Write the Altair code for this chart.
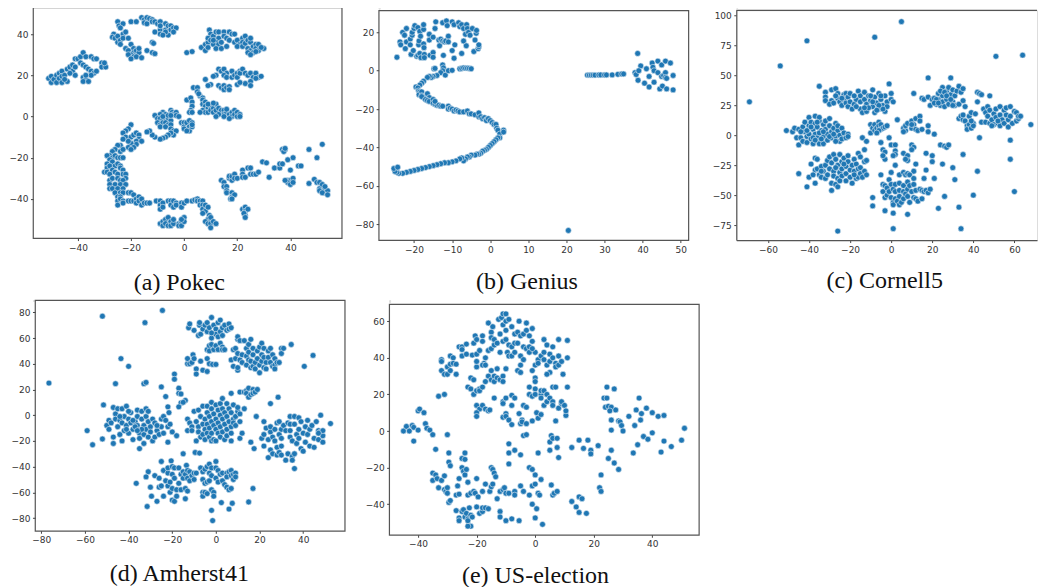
import altair as alt
import pandas as pd

pokec = [(-51,18.5),(-50,16.5),(-50,19.5),(-49,18),(-48,20),(-48,16.5),(-47,21),(-47,18.5),(-46,22),(-46,16.5),(-46,19.5),(-45,20),(-44,17),(-44,23),(-43,24),(-42,22),(-42,25),(-41,24),(-41,20),(-45,18),(-43,21),(-41,28),(-40,28),(-39,29),(-38,31),(-37,29),(-35,29),(-34,28),(-33,28),(-39,26),(-38,25),(-37,24),(-36,23),(-35,22),(-34,21),(-35,20),(-33,22),(-38,19),(-37,18),(-38,17),(-36,17),(-37,20),(-31,26),(-30,25),(-31,24),(-29.5,24),(-30,26),
(-25,46),(-24.5,44),(-23,45),(-24,43),(-26.5,40),(-27,38.5),(-26,38),(-25,39),(-25,36),(-24,37),(-23,40),(-22,41),(-23,38),(-21,38),(-24,35),(-22,33),(-20,35),(-19,33),(-21,32),(-19,31),(-18,32),(-20,30),(-17,31),(-19,29),(-21,30),(-20,28),(-18,29),(-16,28.5),(-17,33),(-14,32),(-12,31),(-11,30.5),(-12,36),(-11.5,35.5),
(-20,46),(-18,46),(-16,48),(-15,47),(-15,45.5),(-14,48),(-14,45),(-13,47.5),(-12,47),(-12,46),(-11,46),(-10,45),(-9,46),(-11,41),(-9,42),(-9,40),(-7,45),(-7,42),(-6,44),(-5,44),(-5,42),(-4,43),(-3,43),(-6,39.5),(-7,41),(-8,39.5),(-4,41),(-9,44),
(1,31),(3,31.5),(6.5,33.5),(8,32),(8,35),(9,36),(9,33.5),(9.5,42),(10,40),(9,38),(10,37),(11,39),(12,41),(13,41),(13,38),(12,36),(11,35),(13,35),(12,33),(14,33),(14,36),(11,37),(15,41),(15,39),(16,38),(17,41),(18,40),(19,40),(17,37),(16,34),(19,36),(20,37),(21,35),(20,34),(22,38),(22,36),(22,34),(23,39),(23,35.5),(24,37),(24,33),(25,36),(25,32),(25,38),(26,34),(26,31),(27,35),(27,33),(28,35),(28,32),(24,31),(25,30),(27,31.5),(30,33),(29,33.5),
(13,23),(14,22),(15,23),(16,21),(15,20),(12,20),(11,19.5),(16,19),(18,22),(18,19),(19,20),(20,21),(20,19),(21,22),(21,21),(22,23),(23,21),(24,20),(25,21),(26,19),(27,21),(28,19),(29,19.5),(27,18.5),(25,17),(23,16),(20,15.5),(21,16.5),(25,15),(13,15),(14,14),(15,15),(15,13),(16,14),(17,14.5),(17,13),(10,15.5),(9,15),(8,18),(3.5,14),(5,14),(5,12),(6,10),(5.5,11),(7,9),
(7,8),(7,6),(8,7),(8,5),(9,4),(7,3),(8,2),(9,2),(10,5),(10,3),(11,4),(11,2),(12,6),(12,3),(13,4),(14,2),(14,3),(15,3),(15,1),(16,2),(16,3.5),(17,1),(18,2),(18,0),(17,-1),(19,3),(19,1),(20,2),(20,0),(21,1),(21,0),(13,1),(15,0),(12,0),(9,6),(11,6.5),(6,2),
(2,8),(1,8),(2.5,9),(3,7),(3,5),(2.5,3),(2,2),(3,2),
(-8,2),(-7,1),(-9,1),(-11,0.5),(-10,-1),(-9,-1),(-8,-1.5),(-6,-1),(-5,-2),(-8,0),(-6,0.5),(-10,-3),(-9,-4),(-8,-3),(-7,-3),(-9,-5),(-6,-4),(-7,-5),(-5,-4),(-5,-6),(-4,-7),(-3,-7),(-4,-9),(-5,-8),(-6,-9),(-7,-10),(-8,-10.5),(-9,-11),(-11,-10),(-12,-9),(-13,-7),(-14,-7.5),(-5,3),(-4.5,2),(-4,1),(-3,2),(-3,0.5),(-5,0.5),(-2,0),(-1,-3),(0,-3),(0,-5),(1,-3),(1,-6),(2,-2),(2,-5),(2,-7),(3,-3),(3,-5),(0,-6),(1,-7),(3,-4),
(-20,-4),(-21,-6),(-22,-7),(-23,-8),(-22,-10),(-20,-10),(-19,-9),(-18,-8),(-17,-9),(-17,-11),(-18,-12),(-16,-12),(-18,-13.5),(-20,-13),(-21,-12),(-23,-11),(-21,-15),(-19,-15),(-20,-16),(-24,-14),(-25,-14),(-26,-16),(-24,-17),(-23,-16),(-27,-17),(-28,-19),(-29,-19),(-27,-20),(-26,-19),(-25,-20),(-24,-20),(-23,-20),(-28,-21),(-27,-22),(-29,-23),(-29,-25),(-28,-24),(-26,-24),(-25,-23),(-24,-24),(-24,-25),(-23,-26),(-30,-27),(-29,-27),(-27,-26),(-26,-27),(-23,-28),(-22,-28),(-28,-28),(-25,-28),(-28,-31),(-27,-30),(-25,-30),(-24,-31),(-22,-30),(-23,-31),(-28,-33),(-26,-33),(-24,-33),(-22,-33),(-28,-35),(-27,-35),(-25,-35),(-23,-35),(-26,-37),(-24,-37),(-23,-37),(-25,-39),(-24,-39),(-21,-37),(-20,-37),(-19,-38),(-25,-41),(-24,-40),(-23,-41),(-21,-41),(-20,-41),(-25,-43),(-23,-42),(-19,-41),(-18,-40),(-17,-39),(-18,-42),(-17,-41),(-16,-43),(-16,-40),(-15,-42),(-14,-42),(-13,-42),
(-10.5,-41),(-9,-41),(-9,-43),(-9,-45),(-8,-42),(-8,-44),(-6,-41),(-5,-41),(-5,-43),(-4,-44),(-4,-41),(-3,-42),(-3,-43),(-1,-42),(-1,-44),(0,-42),(1,-41),(3,-41),(4,-40.5),(5,-40),(5,-41),(6,-41),(6,-43),(7,-41),(7,-43),(7,-45),(8,-43),(8,-46),(9,-44),(7,-47),(9.5,-48),(9,-50),(10,-49),(8,-51),(9,-52),(10,-52),(10,-54),(11,-51),(12,-52),
(-9,-52),(-8,-51),(-8,-53),(-7,-50),(-7,-52),(-6,-49),(-6,-53),(-5,-51),(-5,-53),(-4,-52),(-4,-50),(-2,-52),(-2,-53),(-1,-51),(-1,-53),(0,-49),(0,-51),(-1,-50),
(14,-31),(15,-32),(15,-34),(16,-34),(16,-36),(17,-30),(17,-29),(18,-31),(18,-29),(19,-28),(19,-30),(20,-30),(16,-37),(18,-37),(18,-39),(17.5,-40),(19,-38),(18,-40),(22,-26),(22,-28),(22,-29.5),(23,-29.5),(24,-25),(25,-25),(25,-28),(26,-28),(27,-28),(28,-27),(29.5,-22),(31,-22.5),(32,-29.5),(34,-25),(36,-25),(36,-23),(37,-23),(37,-16),(38,-16),(37.5,-17),(38,-15.5),(39,-21),(41,-20),(40,-26),(43,-24),(44,-24),(47,-16),(50,-20),(52,-13.5),(39,-31),(40,-31),(39,-32),(41,-30),(40,-33),(41,-32),(38,-31),(47,-32.5),(49,-30.5),(50,-32),(51,-32),(51,-35),(52,-33),(51,-36),(53,-35),(53,-37),(54,-36),(52,-37),(54,-38),(53,-34),(22,-45),(23,-44),(23,-46),(24,-45),(23,-48),(22.5,-47),(23,-49)]

genius = [(-24.5,7),(-23.7,15),(-23.5,13.5),(-23,20),(-22.5,18.5),(-22.3,11.5),(-22,15),(-22,22),(-21,16.5),(-21,13.5),(-20.8,8.5),(-20.5,18.5),(-20.5,20),(-20.2,10.5),(-20,22),(-19.8,23.5),(-19.3,7.5),(-19,8),(-19,22.5),(-18.8,13.5),(-18.7,15.5),(-18.5,20.5),(-18.3,18),(-18.5,9),(-18.2,6.8),(-17.5,21.5),(-17.5,24),(-17.5,14),(-17.4,12),(-17.3,8.5),(-17.3,6.8),(-16,19),(-16,16),(-15.8,8),(-15,17.5),(-15,9.5),(-15,7),(-14.5,22),(-14.3,25.5),(-13.5,16),(-13.3,13),(-13,16.5),(-12.5,15.5),(-12.5,25),(-12.3,8),(-12,15),(-11.7,15.5),(-11.5,26),(-11.3,23.5),(-11,18),(-11,15),(-10,10.5),(-10,25.5),(-9.5,6.5),(-9.5,24),(-9.3,13.5),(-8.3,25),(-8,23),(-7.5,9),(-7.5,24),(-7,22),(-7,15.5),(-6.5,19),(-6.3,13),(-6.2,24),(-6,22),(-5.7,20),(-5.3,18.5),(-4.7,22),(-4.3,10),(-4,16),(-3.7,19.5),(-3.6,21),(-3.2,11.5),(-3,12.5),(-3,13.5),
(-14.8,1),(-14.5,1.2),(-12.5,3),(-12.3,1.5),(-12.5,0),(-13,-1),(-11.8,-2.3),(-11,0),(-10,0.2),(-8,1),(-7.5,1.2),(-7,1.5),(-6.5,1.3),(-6,1.3),(-5.5,1.2),(-5,1),(-14,-2.5),(-15,-3),(-15.5,-3.5),(-16,-3),(-16.5,-3.5),(-17.5,-5.5),(-18,-6.5),(-18.5,-7.5),(-19.5,-8.5),(-19,-9),(-18.8,-10.5),(-18.5,-11),(-18.7,-12.5),(-18,-11),(-18,-13),(-17.5,-14),(-18,-13.5),(-16.5,-12),(-16,-14),(-17,-15),(-16.5,-15.5),(-16,-16),(-15,-15),(-15,-17),(-14.5,-17.5),(-14,-18),(-14.5,-16),(-13.5,-18),(-13,-18.5),(-12.5,-18.5),(-11,-18.5),(-11,-20),(-10.5,-19.5),(-10,-20),(-9.5,-21),(-9,-20.5),(-8.5,-21),(-8,-21.5),(-7,-21.5),(-6,-21),(-5.5,-22.5),(-5,-22.5),(-4,-23),(-3,-24),(-3,-22),(-2.5,-24),(-2,-25),(-1.5,-24.5),(-1,-25.5),(-1,-26),(-0.5,-25),(0,-26),(0.5,-27),(1,-28),(1.5,-28),(1.7,-30),(2,-31),(2.5,-33),(3.5,-31),(3.5,-32),(2.5,-35),(2,-35),(1.5,-36),(1,-37),(0.5,-38),(0,-39),(-0.5,-40),(-1,-41),(-1.5,-41.5),(-2,-42),(-2.5,-43),(-3,-43.5),(-3.5,-43.5),(-4,-44),(-5,-44),(-5.5,-45),(-6,-45),(-6.5,-46),(-7,-47),(-7.5,-45.5),(-8,-46),(-9,-47),(-10,-47.5),(-11,-48),(-12,-48),(-13,-48.5),(-14,-49),(-15,-49.5),(-16,-50),(-17,-50.5),(-18,-51),(-19,-51.5),(-20,-52),(-21,-52.5),(-22,-53),(-23,-53.5),(-24,-53.5),(-24.5,-53),(-25,-52.5),(-25.3,-51),(-24.3,-50.3),
(25.5,-2.3),(26,-2.3),(26.5,-2.3),(27,-2.3),(27.5,-2.3),(28.5,-2.2),(29,-2.2),(30,-2.2),(30.5,-2.2),(32,-2.2),(33.5,-1.9),(34.5,-1.7),(35,-1.7),(38.7,9),(39.5,2.5),(41,1),(42.5,4),(42.7,1.8),(44,5),(45,3),(46,5),(47.3,4),(38,-1),(38.3,-2),(39,0),(38.8,-5),(40.5,-6.5),(41.7,-8.5),(41.7,-3),(43,-6),(43,0),(44,-1),(44.5,-9.5),(45.2,-8),(45,-3),(45.5,-2.5),(46,-1),(46,-3.5),(46.3,-4),(46.3,-9.5),(48,-2.5),(48,-10),(20.5,-83.3)]

cornell = [(-69,28),(-54,58),(-41,79),(-8,82),(5,95),(51,66),(64,67),(68,9),(-26,-80),(1,-78),(34,-78),(33,-60),(23,-61),(8,-66),(1,-65),(-3,-63),(-9,-59),(40,-50),(60,-47),(58,-20),(58,-4),(43,-2),(42,-30),(35,-16),(31,-37),(30,-27),(26,-51),(25,-24),(21,-36),(20,-22),(20,-17),
(-35,41),(-32,36),(-32,32),(-32,29),(-29,38),(-29,29),(-30,26),(-27,39),(-26,35),(-26,31),(-25,28),(-24,25),(-23,34),(-23,30),(-22,35),(-22,27),(-21,32),(-21,24),(-20,35),(-20,28),(-19,22),(-18,26),(-17,30),(-16,37),(-15,33),(-15,28),(-15,22),(-14,19),(-13,36),(-13,30),(-12,26),(-12,20),(-11,33),(-10,29),(-9,38),(-9,24),(-8,32),(-8,19),(-7,27),(-6,35),(-6,22),(-5,30),(-4,25),(-3,33),(-3,20),(-2,28),(-1,43),(0,35),(0,30),(1,28),(-2,24),(-4,22),(-27,33),(-28,27),(-24,31),(-18,33),(-17,24),(-11,23),(-9,28),(-13,23),(-6,25),(-5,33),(-7,21),(-10,33),
(-51,4),(-48,3),(-47,6),(-46,-2),(-45,5),(-45,-8),(-44,-2),(-43,7),(-43,-5),(-42,3),(-42,11),(-41,-1),(-41,-6),(-40,15),(-40,8),(-40,1),(-39,11),(-39,-3),(-38,5),(-38,-7),(-37,16),(-37,10),(-37,1),(-36,-2),(-36,7),(-35,12),(-35,15),(-35,-7),(-34,4),(-33,-1),(-33,9),(-33,-7),(-32,12),(-32,5),(-31,1),(-31,-4),(-30,8),(-30,14),(-29,3),(-29,-2),(-28,6),(-27,10),(-27,-1),(-26,4),(-26,8),(-25,0),(-25,-5),(-24,6),(-24,-3),(-23,2),(-22,-2),(-21,1),(-21,-1),(-38,-2),(-41,4),(-44,3),(-39,7),(-37,-4),(-35,2),(-36,11),(-30,-1),(-28,1),(-33,3),(-34,-3),(-27,-5),
(-10,9),(-10,2),(-9,6),(-8,9),(-8,4),(-7,6),(-6,11),(-6,8),(-5,5),(-5,9),(-4,6),(-3,7),(-2,8),(-6,4),(-7,2),(3,13),
(6,6),(7,4),(6,3),(7,8),(8,10),(10,12),(10,6),(11,9),(12,14),(12,5),(14,16),(13,4),(15,5),(10,9),(14,12),(18,8),(18,3),(21,1),
(11,35),(15,31),(16,30),(18,48),(18,32),(19,25),(20,30),(21,31),(22,26),(23,35),(23,30),(24,25),(25,40),(25,33),(25,28),(26,24),(27,37),(27,30),(28,40),(28,26),(29,34),(29,48),(30,38),(30,28),(31,33),(31,25),(32,37),(33,26),(33,41),(34,36),(35,29),(35,39),(36,24),(24,37),(22,30),(26,36),(30,25),(27,33),(21,27),(23,27),(29,30),
(33,14),(34,16),(35,13),(35,17),(36,12),(37,8),(37,5),(38,16),(38,9),(39,19),(39,6),(40,10),(40,8),(41,18),(39,12),(42,36),(43,35),(44,34),(42,28),(48,33),
(44,11),(45,22),(46,19),(46,11),(47,24),(47,16),(48,21),(48,10),(49,13),(50,18),(50,9),(51,22),(51,15),(52,10),(53,24),(53,17),(53,8),(54,13),(55,21),(55,10),(56,17),(56,23),(57,13),(57,7),(58,24),(58,16),(59,10),(60,20),(61,12),(61,19),(62,14),(62,16),(63,16),(49,8),(52,12),
(-45,-32),(-41,-43),(-40,-35),(-39,-24),(-37,-29),(-37,-40),(-37,-19),(-36,-20),(-36,-28),(-35,-33),(-34,-35),(-34,-26),(-33,-30),(-32,-25),(-32,-36),(-31,-33),(-31,-21),(-30,-28),(-30,-18),(-29,-40),(-29,-46),(-29,-23),(-28,-16),(-28,-30),(-28,-34),(-27,-20),(-27,-41),(-26,-25),(-26,-36),(-26,-43),(-25,-31),(-25,-16),(-24,-22),(-24,-28),(-24,-34),(-23,-19),(-22,-26),(-22,-32),(-22,-38),(-21,-17),(-21,-22),(-20,-29),(-20,-35),(-19,-25),(-19,-40),(-18,-20),(-18,-30),(-17,-36),(-17,-24),(-16,-28),(-16,-15),(-16,-35),(-15,-18),(-15,-27),(-15,-32),(-14,-35),(-13,-22),(-13,-30),(-13,-12),(-12,-33),(-12,-21),(-14,-2),(-12,-5),(-25,-38),(-27,-27),(-23,-24),(-18,-33),(-38,-33),(-34,-30),
(-5,-6),(-4,-12),(-3,-14),(-3,-20),(-4,-17),(-1,-2),(0,-8),(2,-8),(2,-13),(2,-16),(1,-17),(0,-31),(2,-25),(-5,-33),(6,-15),(8,-17),(8,-21),(7,-20),(10,-8),(11,-10),(10,-12),(11,-30),(12,-24),(17,-15),(17,-29),(16,-36),(4,-33),(6,-31),(7,-33),(8,-32),(9,-33),(11,-36),(24,-8),(26,-9),(27,-10),(28,-8),
(-9,-52),(-4,-41),(-4,-47),(-3,-52),(-3,-42),(-2,-44),(-2,-50),(-1,-37),(-1,-47),(0,-41),(0,-52),(1,-45),(1,-56),(1,-58),(2,-41),(2,-47),(2,-53),(3,-55),(4,-40),(4,-46),(4,-51),(4,-58),(5,-56),(6,-42),(6,-47),(6,-53),(7,-49),(8,-39),(8,-45),(8,-51),(9,-56),(9,-42),(10,-47),(11,-41),(11,-52),(12,-53),(12,-46),(13,-55),(14,-45),(15,-46),(15,-53),(16,-47),(17,-46),(18,-48),(19,-45)]

amherst = [(-76.5,25),(-52,77),(-32.5,72),(-24.5,81.5),(-43.5,44),(-40,38),(-46,24.5),(-33,24.5),(-32,25.5),(-25,22),(-19,32),(-19,28),(-23,14.5),(-17,21),(-17,17),(-16,16.5),(-14,11.5),(-16,9.5),(-15,10),(-17,6.5),(-22,6.5),(-21.5,2),(-59,-12),(-56.5,-23),(-51.5,8),(-52,-18.5),(-15,-30),(-9.5,-29),(-7.5,-29.5),(34.5,55),(44.5,46.5),(40.5,38),(25,9),(28.5,14),(18.5,-1),(52.5,-6.5),(36,-41.5),(15,-67.5),(17,-57),(6,-73),(2.5,-68),(7.5,-68.5),(-2,-74),(-1.5,-82),
(-12.5,68),(-12,71),(-10,66),(-8,62),(-7.5,70),(-7.5,72),(-7,63),(-6,67),(-5,70),(-4,72),(-4,65),(-3,68),(-2,76),(-2,60),(-1,70),(0,67),(0,63),(1,72),(1,61),(2,74),(2,65),(3,68),(3,62),(4,70),(5,66),(6,71),(6,67),(7,68),(-2,64),
(-4,51),(-3,54),(-3,50),(-2,55),(-1,51),(0,54),(1,51),(2,56),(3,53),(3,51),(4,51),(-13,40),(-13,44),(-12,40),(-11,41),(-10.5,47),(-10,44),(-9,36),(-9,32),(-7,42),(-6,35),(-4,44),(-4,34),(-3,40),(-1.5,39.5),(0,39.5),
(7,43),(8,38),(8,51),(9,52),(9,44),(10,48),(10,59),(10,61),(11,58),(10,35),(10,37),(11,43),(12,47),(12,41),(13,58),(14,52),(14,46),(14,39),(15,55),(15,49),(15,43),(16,37),(16,42),(17,52),(17,47),(17,38),(18,41),(18,36),(19,50),(19,44),(20,33),(20,39),(20,53),(21,56),(21,47),(21,42),(22,52),(22,45),(22,37),(23,41),(23,36),(24,50),(24,45),(25,52),(25,41),(26,47),(26,38),(27,44),(27,39),(27,36),(28,41),(29,41),(30,52),(30,48),(31,52),(16,59),
(7,17),(11,18),(13,18),(14,19),(14,17),(15,21),(15,14),(16,16),(17,20),(17,17),(18,18),(19,20),
(-50,-8),(-49,-11),(-49,-4),(-48,-6),(-47,-17),(-47,-22),(-47,6),(-46,1),(-46,-3),(-45,5),(-45,-9),(-44,-15),(-44,-4),(-43,-20),(-43,5),(-43,-6),(-42,-1),(-42,-12),(-41,7),(-41,-8),(-40,-3),(-40,-14),(-39,-6),(-39,2),(-38,-11),(-38,-19),(-37,-5),(-36,4),(-36,-1),(-36,-8),(-35,-14),(-35,-18),(-35,-26),(-34,-3),(-34,3),(-33,-8),(-33,-22),(-33,-15),(-32,5),(-32,-1),(-32,-11),(-31,-5),(-31,3),(-31,-17),(-30,-9),(-30,-13),(-29,-20),(-29,-3),(-28,-6),(-28,-17),(-27,-12),(-26,-15),(-25,-9),(-25,-3),(-24,-14),(-24,-1),(-23,-4),(-22,-9),(-22,-21),(-21,-7),(-20,-13),(-18,-16),(-38,-4),(-44,-1),(-41,-11),(-37,-9),(-40,3),(-34,-11),(-36,-12),(-27,-8),
(-13,-3),(-13,-12),(-12,-6),(-11,-9),(-11,-12),(-10,3),(-9,-5),(-9,-20),(-8,-9),(-8,4),(-8,-13),(-7,-1),(-7,-17),(-6,-7),(-6,-15),(-6,7),(-5,-3),(-5,-11),(-5,-19),(-4,7),(-4,2),(-4,-7),(-4,-14),(-3,-1),(-3,-10),(-3,-17),(-2,10),(-2,5),(-2,-5),(-2,-14),(-2,-20),(-1,1),(-1,-8),(-1,-19),(0,8),(0,-3),(0,-11),(0,-20),(1,4),(1,-6),(1,-14),(2,9),(2,0),(2,-9),(2,-17),(3,13),(3,5),(3,-3),(3,-13),(4,2),(4,-7),(4,-19),(5,9),(5,-1),(5,-11),(5,-16),(6,5),(6,-5),(7,2),(7,-9),(7,-14),(7,-20),(8,8),(8,-3),(8,-6),(9,-1),(9,-8),(10,3),(10,6),(11,-5),(11,1),(13,5),(11,-18),(12,-14),(16,-21),(17.5,-26),
(21,-18),(22,-5),(22,-15),(22,-24),(23,-10),(24,-19),(24,-33),(25,-13),(25,-9),(25,-27),(26,-17),(26,-30),(27,-11),(27,-20),(28,-6),(28,-25),(28,-31),(29,-15),(29,-5),(29,-29),(30,-11),(30,-18),(30,-24),(30,-31),(31,-8),(32,-12),(32,-35),(33,-6),(33,-30),(34,-1),(34,-7),(34,-12),(34,-17),(35,-20),(35,-32),(35,-35),(36,-1),(36,-7),(36,-30),(37,-15),(37,-22),(38,-2),(38,-11),(38,-18),(39,-26),(39,-5),(40,-14),(40,-28),(41,-21),(41,-9),(42,-15),(42,-4),(43,-11),(43,-24),(44,-8),(45,-25),(45,-18),(46,-5),(47,-19),(47,-12),(48,0),(48,-13),(49,-21),(49,-16),(49,-12),(47,-14),
(-36.5,-53),(-31.5,-71),(-31,-44),(-32,-48),(-30,-56),(-29.5,-63),(-28,-47),(-27,-67),(-26,-56),(-26,-49),(-25,-36),(-25,-55),(-24,-43),(-24,-63),(-23,-51),(-22,-45),(-22,-41),(-22,-55),(-21,-52),(-21,-60),(-20.5,-35.5),(-20,-40),(-20,-46),(-20,-57),(-20,-66),(-19,-41),(-19,-49),(-19,-67),(-18,-58),(-18,-63),(-17,-41),(-17,-53),(-16,-46),(-16,-58),(-15,-44),(-15,-49),(-14,-65),(-14,-57),(-14,-46),(-13.5,-39),(-13,-43),(-13,-59),(-13,-49),(-12,-44),(-12,-51),(-11,-47),(-10,-45),(-10,-50),(-9,-45),
(-7,-41),(-6,-44),(-6,-50),(-6,-60),(-6,-63),(-5,-42),(-5,-53),(-5,-60),(-4,-40),(-4,-52),(-4,-61),(-3,-38),(-3,-45),(-3,-51),(-2,-41),(-2,-47),(-2,-58),(-1,-60),(-1,-63),(0,-36),(0,-41),(0,-49),(1,-43),(1,-52),(2,-46),(3,-45),(3,-51),(4,-54),(5,-45),(5,-56),(5,-48),(6,-44),(6,-58),(7,-43),(7,-47),(7,-57),(8,-50),(8,-46),(9,-45),(9,-48)]

election = [(-45,0),(-44,2.5),(-43,0),(-42,3),(-41.5,2),(-41.5,-5.5),(-40,0.5),(-40,11),(-39.5,12),(-38,10),(-37.5,4),(-37,1.5),(-36,0.5),(-35,-2),(-34,-10),(-30,-2),(-35,-23),(-35,-27),(-34,-24),(-33.5,-26),(-33,-31),(-32,-27),(-31,-24.5),(-31,-32),(-30.5,-33),(-30,-31),(-30,-34),(-29.5,-12),(-29.5,-17),(-29,-19),(-29.5,-39),(-29,-38),(-27,-35),(-26.5,-30),(-26,-26),(-26,-34.5),(-25,-15),(-25,-20),(-24.5,-22),(-24,-24),(-24,-15.5),(-23.5,-21),(-24,-12),(-23,-28),(-23,-35),(-22,-34),(-21,-33),(-20.5,-34),(-20,-26),(-19.5,-36),(-18,-33),(-17,-29),(-15.5,-33),(-15,-30.5),(-14.5,-29),(-15,-20),(-14.5,-21),(-14,-23),(-13.5,-25),(-13,-37),(-12,-33),(-11,-32),(-10.5,-31),(-10,-34),(-9,-34),(-7,-33),(-7,-35),(-5,-30),(-4,-33),(-2,-35),(-2,-20),(-1,-21),(0,-24),(2,-26.5),(-1,-30),(0,-29),(1,-34),(1.5,-35),(5.5,-29.5),(6,-35),(6.5,-34),(7.5,-33),(-1,-40),(0.5,-42.5),(0,-47.5),(2.5,-51),(-12,-44),(-12,-47),(-10,-49),(-8,-48),(-5.5,-49),
(-27,-43.5),(-26,-47.5),(-26,-49),(-25,-44),(-24.5,-43),(-24,-47),(-23.5,-45),(-23,-48),(-22.5,-42),(-22,-46),(-22,-52),(-23,-52),(-23,-49),(-21.5,-47),(-20,-41.5),(-19,-45),(-18,-44),(-18,-42),(-17,-42),(-16,-42.5),
(-9,-7),(-9,-12),(-9,-18),(-7,-10.5),(-5,-13),(1,-12),(5,-10.5),(5,-6),(5.5,-2.5),(6,-4),(7.5,-4),(7.5,-9),(8,-14.5),(12.5,-9),(15,-5),(16.5,-9.5),(18,-5),(19,-10.5),(19,-12.5),(21.5,-8),(22.5,-24),(22,-31),(22.5,-33),(12.5,-38.5),(14,-41.5),(15,-44.5),(15,-36),(16,-37),(17.5,-45),(25,-15),(26,-10.5),(27,-17.5),(28.5,-21),
(24.5,24),(27,23),(23.5,18),(24.5,18),(24,13),(25,13.5),(26,13),(25.5,11),(27.5,11.5),(26,6),(26,0.5),(28.5,5.5),(29,5),(29.5,3),(30,0),(32,8),(34,3),(34.5,11.5),(35.5,18),(36,6),(36.3,9.5),(37,-3),(38,12.5),(38.5,-4.5),(40,10),(40,-1),(42,8),(43,-11.5),(44,8.5),(44,-5.5),(46.5,-8.5),(50,-5),(51,1.5),(35,-7.5),(33.5,-12),
(-32,39),(-32,38),(-30,35),(-29,41),(-29,36.5),(-28,40),(-28,37),(-27,36.5),(-26,46),(-25,46),(-25,44.5),(-25,41),(-23.5,47.5),(-23.5,42),(-21.5,41.5),(-21,48),(-20.5,52),(-20,50),(-20,42),(-19,44),(-18,52),(-18,49),(-17.5,37),(-17,40),(-16,44),(-16,59),(-15,54),(-15,51),(-15,45),(-14.5,57),(-14,47),(-14,50),(-13,48),(-12.5,61),(-12,53),(-12,43),(-11.5,62),(-11,64),(-11,58),(-11,49),(-10,64),(-10,60),(-10,55),(-10,50),(-9.5,43),(-9,61),(-9,47),(-9,41),(-8,57),(-8,46),(-8,41),(-7,53),(-7,48),(-7,43),(-6,54),(-6,48),(-5.5,60),(-5,41),(-5,52),(-4,53),(-4,46),(-3,59),(-3,55),(-3,45),(-2,52),(-2,46),(-2,43),(-1,56),(-1,49),(0,43),(0,36),(1,39),(1,37),(2,41),(3,50),(3,43),(3,39),(4,47),(4,36),(5,42),(5,38),(5,32),(6,46),(6,40),(7,37),(7,35),(8,50),(8,41),(8,36),(9,38),(9.5,31),(11,49.5),(11,40),(4,31),(-1,33),(-4,39),(-5,36),(-6,33),(-5,32),(-10,34),(-1,45),
(-32,33),(-31,31),(-30,31),(-29,33),(-27,31),(-23,24),(-22,23),(-22,29),(-21,28),(-21,20),(-20,22),(-20,35),(-20,38),(-19,23),(-19,22),(-18,24),(-18,36),(-17,27),(-17,36),(-16,30),(-15,28),(-15,33),(-14,30),(-14,27),(-13,29),(-13,34),(-12,28),(-11,30),(-11,27),(-33,19),(-31,20),(-14,18),(-20,14),(-19,12),(-20,10),(-20,8),(-18,14),(-17,12),(-16,11),(-15.5,11.5),(-11,16),(-11,15),(-10,9.5),(-11,7.5),(-10,8),(-9,6),(-8,3.5),(-10,18),(-8,19.5),(-8,14),(-7,18),(-5.5,9.5),(-5,4),(-4.5,6),(-4.5,5),(-4,14),(-4,-2.5),(-3,-2),(-3,4),(-3,13),(-1,5.5),(0.5,10),(1,7),(2,9),(3,14),
(-2,20),(-2,24),(-1,19),(0,23),(0,20),(0,29),(0,27),(2,20),(2,18),(2,22),(3,22),(4,16),(4,20),(5,18),(6,24),(6,16),(6,14),(7,24),(8,12.5),(9,15),(9,16),(10,14),(10.5,8.5),(10.5,11),(11,24),(7,5.5)]

pokec_xt, pokec_yt = [-40, -20, 0, 20, 40], [-40, -20, 0, 20, 40]
genius_xt, genius_yt = [-20, -10, 0, 10, 20, 30, 40, 50], [-80, -60, -40, -20, 0, 20]
cornell_xt, cornell_yt = [-60, -40, -20, 0, 20, 40, 60], [-75, -50, -25, 0, 25, 50, 75, 100]
amherst_xt, amherst_yt = [-80, -60, -40, -20, 0, 20, 40], [-80, -60, -40, -20, 0, 20, 40, 60, 80]
election_xt, election_yt = [-40, -20, 0, 20, 40], [-40, -20, 0, 20, 40, 60]

FRAME = "#555555"


def panel(points, xdom, ydom, xt, yt, w, h, caption, tx, ty, open_right=False):
    x_axis = alt.Axis(values=xt, title=caption, grid=False, format="d", titleFont="Liberation Serif",
                      titleFontSize=24, titleFontWeight="normal", titleColor="#111111", titleX=tx, titleY=ty,
                      titleBaseline="middle", titleAlign="center", labelFont="DejaVu Sans", labelFontSize=9,
                      labelColor="#333333", tickColor="#444444", tickSize=2.5, domain=open_right,
                      domainColor=FRAME, domainWidth=1.2, labelOverlap=False, labelFlush=False, labelPadding=2.5)
    y_axis = alt.Axis(values=yt, title=None, grid=False, format="d", labelFont="DejaVu Sans", labelFontSize=9,
                      labelColor="#333333", tickColor="#444444", tickSize=2.5, domain=open_right,
                      domainColor=FRAME, domainWidth=1.2, labelOverlap=False, labelFlush=False, labelPadding=2.5)
    points_layer = alt.Chart(pd.DataFrame(points, columns=["x", "y"])).mark_circle(
        size=34, color="#1f77b4", opacity=1, stroke="#dfe9f2", strokeWidth=0.6
    ).encode(
        x=alt.X("x:Q", scale=alt.Scale(domain=xdom, nice=False, zero=False), axis=x_axis),
        y=alt.Y("y:Q", scale=alt.Scale(domain=ydom, nice=False, zero=False), axis=y_axis),
    )
    if open_right:
        top = alt.Chart(pd.DataFrame({"a": [0]})).mark_rule(color=FRAME, strokeWidth=1.2).encode(
            x=alt.value(0), x2=alt.value(w), y=alt.value(0)
        )
        return alt.layer(points_layer, top).properties(width=w, height=h)
    return points_layer.properties(width=w, height=h, view=alt.ViewBackground(stroke=FRAME, strokeWidth=1.2))


def spacer(w, h):
    return alt.Chart(pd.DataFrame({"a": [0]})).mark_point(opacity=0, size=1).encode(
        x=alt.value(0), y=alt.value(0)
    ).properties(width=w, height=h)


a = panel(pokec, [-56.9, 59.3], [-59, 53], pokec_xt, pokec_yt, 309, 231, "(a) Pokec", 146, 44)
b = panel(genius, [-29.3, 52], [-88.3, 31.5], genius_xt, genius_yt, 310, 230, "(b) Genius", 148, 41)
c = panel(cornell, [-75.4, 71], [-87.5, 104.5], cornell_xt, cornell_yt, 301, 230, "(c) Cornell5", 148, 40, open_right=True)
d = panel(amherst, [-82.9, 59], [-89.9, 89.6], amherst_xt, amherst_yt, 310, 231, "(d) Amherst41", 144, 43)
e = panel(election, [-49.9, 55.9], [-56.7, 69.4], election_xt, election_yt, 310, 231, "(e) US-election", 146, 40.5)

row1 = alt.hconcat(
    a,
    alt.hconcat(
        alt.vconcat(spacer(1, 1.5), b, spacing=0),
        alt.vconcat(spacer(1, 0.5), c, spacing=0),
        spacing=22,
    ),
    spacing=11,
)
row2 = alt.hconcat(
    alt.hconcat(spacer(1, 1), d, spacing=-26.5),
    alt.vconcat(spacer(1, 2), e, spacing=0),
    spacing=18.5,
)

chart = alt.vconcat(row1, row2, spacing=4).properties(
    padding={"left": 0, "top": -2, "right": 0, "bottom": 0}
).configure_view(stroke="transparent").configure(background="white")

chart.save("out.html", embed_options={"renderer": "svg", "actions": False})
